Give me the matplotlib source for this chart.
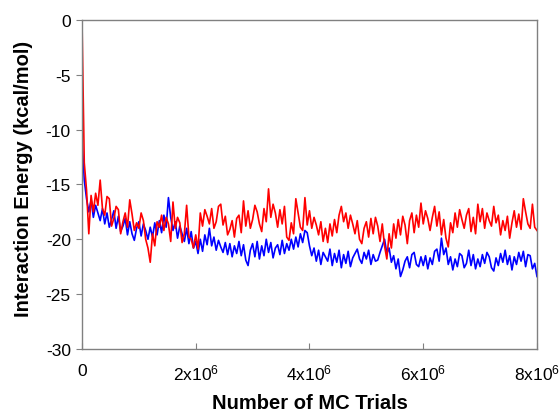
import numpy as np
import matplotlib.pyplot as plt
from matplotlib.ticker import FuncFormatter

plt.rcParams["font.family"] = ["Liberation Sans", "DejaVu Sans"]
plt.rcParams["mathtext.default"] = "regular"
plt.rcParams["axes.unicode_minus"] = False

# --- DATA (one value every 0.04x10^6 trials) ---
step = 0.04e6
trials = np.arange(201) * step

red_energy = [
    0.0, -13.0, -15.5, -19.5, -16.0, -17.5, -15.8, -16.9, -14.6, -17.2, -17.8, -16.1, -16.3,
    -18.8, -18.1, -17.0, -17.3, -19.5, -18.4, -17.6, -18.9, -16.4, -17.7, -19.2, -18.5,
    -19.0, -17.6, -18.3, -20.0, -20.8, -22.1, -19.5, -20.6, -18.4, -18.9, -17.8, -19.2, -18.0,
    -18.6, -20.2, -16.6, -19.0, -18.0, -18.5, -20.3, -19.5, -16.9, -19.8, -20.0, -20.8,
    -19.6, -20.9, -17.6, -18.8, -17.3, -17.9, -18.6, -17.2, -19.0, -18.4, -17.0, -16.8, -18.7,
    -17.9, -19.6, -19.1, -18.3, -19.8, -18.1, -17.8, -19.4, -16.5, -18.8, -17.4, -19.0,
    -18.2, -16.9, -17.5, -18.6, -19.3, -17.2, -18.4, -15.4, -18.0, -16.8, -17.6, -18.9, -17.3,
    -18.6, -17.0, -19.8, -20.1, -18.5, -19.5, -16.3, -17.6, -18.9, -19.2, -16.2, -18.7,
    -17.4, -19.0, -18.0, -18.7, -19.6, -18.4, -20.2, -19.0, -20.3, -18.6, -19.7, -18.2, -19.4,
    -17.8, -17.0, -18.4, -17.6, -19.0, -17.8, -18.6, -19.5, -18.3, -20.0, -20.4, -19.0,
    -18.4, -19.8, -18.1, -19.5, -18.0, -18.8, -20.2, -18.6, -20.6, -21.8, -19.5, -20.8, -18.6,
    -19.9, -18.2, -19.6, -17.9, -18.7, -20.4, -18.3, -17.6, -19.4, -17.8, -18.9, -16.7,
    -18.6, -17.4, -18.1, -19.2, -18.0, -17.0, -18.8, -17.5, -19.6, -18.2, -19.9, -20.7, -18.5,
    -19.4, -17.6, -18.9, -17.3, -18.2, -19.0, -17.8, -17.2, -19.3, -18.0, -19.5, -16.8,
    -18.4, -17.2, -19.0, -17.6, -18.3, -18.8, -17.0, -18.5, -17.8, -19.6, -18.3, -19.2, -17.9,
    -19.9, -18.5, -17.4, -18.9, -17.7, -19.1, -16.3, -17.5, -18.6, -19.0, -16.8, -18.9, -19.2,
]

blue_energy = [
    -10.8, -14.6, -16.3, -17.5, -16.4, -18.0, -16.9, -17.6, -18.3, -17.2, -18.6, -17.6, -18.9,
    -18.2, -17.4, -19.0, -17.9, -19.3, -18.8, -18.1, -19.6, -18.4, -19.5, -20.1, -19.0,
    -18.4, -19.7, -18.6, -19.2, -20.0, -18.9, -19.8, -18.5, -19.6, -18.3, -19.4, -17.8, -18.9,
    -16.2, -18.0, -19.2, -18.4, -19.9, -18.8, -19.5, -20.2, -19.0, -20.4, -19.3, -20.8,
    -20.2, -21.3, -20.0, -21.1, -19.6, -20.5, -19.0, -20.6, -19.8, -21.0, -20.1, -20.7, -21.2,
    -20.3, -21.4, -20.4, -21.6, -20.6, -21.3, -20.2, -21.5, -20.5, -21.9, -22.4, -21.0,
    -20.4, -21.6, -20.2, -21.8, -20.6, -21.5, -20.0, -21.2, -20.3, -21.7, -20.8, -20.5, -21.4,
    -20.1, -21.3, -20.4, -21.0, -20.0, -20.9, -19.8, -20.7, -19.5, -20.3, -19.2, -19.4,
    -20.6, -21.5, -20.8, -22.0, -21.0, -22.3, -21.2, -21.6, -22.0, -20.9, -22.4, -21.3, -22.1,
    -21.0, -22.6, -21.4, -22.2, -21.1, -22.5, -21.7, -21.3, -20.9, -21.8, -22.2, -21.2,
    -21.8, -21.0, -22.3, -21.4, -22.0, -21.9, -21.2, -20.6, -20.0, -21.3, -20.8, -22.1, -21.5,
    -22.7, -21.8, -23.4, -22.8, -22.0, -21.6, -22.6, -21.4, -21.2, -22.3, -22.5, -21.6,
    -22.4, -21.5, -22.7, -21.7, -22.3, -21.1, -20.9, -22.0, -19.9, -21.4, -20.8, -22.3, -21.6,
    -22.8, -21.8, -22.5, -21.3, -21.5, -22.6, -22.2, -21.0, -22.4, -21.4, -22.7, -21.8,
    -22.5, -21.4, -22.2, -21.2, -21.6, -22.6, -22.9, -21.7, -22.4, -21.3, -22.1, -21.0, -22.3,
    -21.5, -22.8, -21.6, -22.3, -21.2, -22.0, -21.1, -22.5, -21.4, -21.5, -22.7, -22.2, -23.4,
]

x_ticks = [0, 2e6, 4e6, 6e6, 8e6]
y_ticks = [0, -5, -10, -15, -20, -25, -30]


def sci_label(v, pos):
    if v == 0:
        return "0"
    return f"{v / 1e6:.0f}x10$^{{6}}$"


fig = plt.figure(figsize=(5.6, 4.14), dpi=100)
ax = fig.add_axes([0.1464, 0.155, 0.8125, 0.794])

ax.plot(trials, blue_energy, color="#0000FF", linewidth=1.2)
ax.plot(trials, red_energy, color="#FF0000", linewidth=1.2)

ax.set_xlim(0, 8e6)
ax.set_ylim(-30, 0)
ax.set_xticks(x_ticks)
ax.set_yticks(y_ticks)
ax.xaxis.set_major_formatter(FuncFormatter(sci_label))

for sp in ax.spines.values():
    sp.set_color("#808080")
    sp.set_linewidth(1.0)

ax.tick_params(axis="x", direction="in", length=4, color="#808080", labelsize=12.5, pad=10)
ax.tick_params(axis="y", direction="out", length=4, color="#808080", labelsize=12.5, pad=4)

ax.set_xlabel("Number of MC Trials", fontsize=14.5, fontweight="bold")
ax.set_ylabel("Interaction Energy (kcal/mol)", fontsize=14.5, fontweight="bold")
ax.xaxis.set_label_coords(0.5, -0.135)
ax.yaxis.set_label_coords(-0.108, 0.52)

fig.savefig("out.png", dpi=100, facecolor="white")
